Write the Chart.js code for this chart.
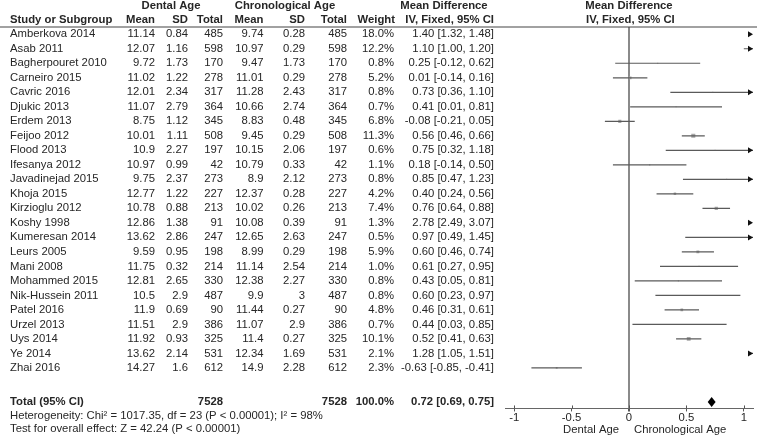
<!DOCTYPE html>
<html lang="en">
<head>
<meta charset="UTF-8">
<title>Forest plot - Dental Age vs Chronological Age</title>
<script src="https://cdn.jsdelivr.net/npm/chart.js"></script>
<style>
  html, body { margin: 0; padding: 0; background: #fff; }
  #wrap { width: 763px; height: 437px; }
</style>
</head>
<body>
<div id="wrap"><canvas id="forest" width="763" height="437"></canvas></div>
<script>
// study data
const studies = ['Amberkova 2014', 'Asab 2011', 'Bagherpouret 2010', 'Carneiro 2015', 'Cavric 2016',
  'Djukic 2013', 'Erdem 2013', 'Feijoo 2012', 'Flood 2013', 'Ifesanya 2012', 'Javadinejad 2015',
  'Khoja 2015', 'Kirzioglu 2012', 'Koshy 1998', 'Kumeresan 2014', 'Leurs 2005', 'Mani 2008',
  'Mohammed 2015', 'Nik-Hussein 2011', 'Patel 2016', 'Urzel 2013', 'Uys 2014', 'Ye 2014', 'Zhai 2016'];
const dentMean = [11.14, 12.07, 9.72, 11.02, 12.01, 11.07, 8.75, 10.01, 10.9, 10.97, 9.75, 12.77,
  10.78, 12.86, 13.62, 9.59, 11.75, 12.81, 10.5, 11.9, 11.51, 11.92, 13.62, 14.27];
const dentSD = [0.84, 1.16, 1.73, 1.22, 2.34, 2.79, 1.12, 1.11, 2.27, 0.99, 2.37, 1.22,
  0.88, 1.38, 2.86, 0.95, 0.32, 2.65, 2.9, 0.69, 2.9, 0.93, 2.14, 1.6];
const dentTotal = [485, 598, 170, 278, 317, 364, 345, 508, 197, 42, 273, 227,
  213, 91, 247, 198, 214, 330, 487, 90, 386, 325, 531, 612];
const chronMean = [9.74, 10.97, 9.47, 11.01, 11.28, 10.66, 8.83, 9.45, 10.15, 10.79, 8.9, 12.37,
  10.02, 10.08, 12.65, 8.99, 11.14, 12.38, 9.9, 11.44, 11.07, 11.4, 12.34, 14.9];
const chronSD = [0.28, 0.29, 1.73, 0.29, 2.43, 2.74, 0.48, 0.29, 2.06, 0.33, 2.12, 0.28,
  0.26, 0.39, 2.63, 0.29, 2.54, 2.27, 3, 0.27, 2.9, 0.27, 1.69, 2.28];
const chronTotal = [485, 598, 170, 278, 317, 364, 345, 508, 197, 42, 273, 227,
  213, 91, 247, 198, 214, 330, 487, 90, 386, 325, 531, 612];
const weights = [18.0, 12.2, 0.8, 5.2, 0.8, 0.7, 6.8, 11.3, 0.6, 1.1, 0.8, 4.2,
  7.4, 1.3, 0.5, 5.9, 1.0, 0.8, 0.8, 4.8, 0.7, 10.1, 2.1, 2.3];
const md = [1.40, 1.10, 0.25, 0.01, 0.73, 0.41, -0.08, 0.56, 0.75, 0.18, 0.85, 0.40,
  0.76, 2.78, 0.97, 0.60, 0.61, 0.43, 0.60, 0.46, 0.44, 0.52, 1.28, -0.63];
const ciLow = [1.32, 1.00, -0.12, -0.14, 0.36, 0.01, -0.21, 0.46, 0.32, -0.14, 0.47, 0.24,
  0.64, 2.49, 0.49, 0.46, 0.27, 0.05, 0.23, 0.31, 0.03, 0.41, 1.05, -0.85];
const ciHigh = [1.48, 1.20, 0.62, 0.16, 1.10, 0.81, 0.05, 0.66, 1.18, 0.50, 1.23, 0.56,
  0.88, 3.07, 1.45, 0.74, 0.95, 0.81, 0.97, 0.61, 0.85, 0.63, 1.51, -0.41];

// pooled result
const totalDent = 7528;
const totalChron = 7528;
const totalWeight = 100.0;
const totalMD = 0.72, totalLow = 0.69, totalHigh = 0.75;
const heterogeneity = 'Heterogeneity: Chi² = 1017.35, df = 23 (P < 0.00001); I² = 98%';
const overallTest = 'Test for overall effect: Z = 42.24 (P < 0.00001)';

const tickVals = [-1, -0.5, 0, 0.5, 1];
const xMin = -1.08, xMax = 1.08;
const totalRow = 25.34;

const FONT = '"Liberation Sans", Arial, sans-serif';
const FS = '11.3px ';
const TEXT = '#262626';

function ciText(m, l, h) {
  return m.toFixed(2) + ' [' + l.toFixed(2) + ', ' + h.toFixed(2) + ']';
}

// one line dataset per confidence interval
const ciSets = studies.map((s, i) => ({
  type: 'line',
  data: [{ x: ciLow[i], y: i }, { x: ciHigh[i], y: i }],
  borderColor: '#5a5a5a',
  borderWidth: 1.2,
  pointRadius: 0,
  showLine: true
}));

const pointSet = {
  type: 'scatter',
  data: studies.map((s, i) => ({ x: md[i], y: i })),
  pointStyle: 'rect',
  pointRadius: weights.map(w => 0.85 * Math.sqrt(w)),
  backgroundColor: '#a8a8a8',
  borderWidth: 0
};

const tablePlugin = {
  id: 'table',
  afterDraw(chart) {
    const ctx = chart.ctx;
    const xs = chart.scales.x;
    const ys = chart.scales.y;
    const area = chart.chartArea;
    ctx.save();

    // header
    ctx.fillStyle = TEXT;
    ctx.textBaseline = 'middle';
    ctx.font = 'bold ' + FS + FONT;
    ctx.textAlign = 'center';
    ctx.fillText('Dental Age', 171, 6);
    ctx.fillText('Chronological Age', 285, 6);
    ctx.fillText('Mean Difference', 444, 6);
    ctx.fillText('Mean Difference', 629, 6);
    ctx.textAlign = 'left';
    ctx.fillText('Study or Subgroup', 10, 20);
    ctx.fillText('IV, Fixed, 95% CI', 586, 20);
    ctx.textAlign = 'right';
    [['Mean', 155], ['SD', 188], ['Total', 223], ['Mean', 263.5], ['SD', 305], ['Total', 347],
      ['Weight', 395], ['IV, Fixed, 95% CI', 494]].forEach(h => ctx.fillText(h[0], h[1], 20));

    ctx.fillStyle = '#444';
    ctx.fillRect(0, 26.5, 757, 1);

    // rows
    ctx.fillStyle = TEXT;
    ctx.font = FS + FONT;
    studies.forEach((s, i) => {
      const py = ys.getPixelForValue(i);
      ctx.textAlign = 'left';
      ctx.fillText(s, 10, py);
      ctx.textAlign = 'right';
      ctx.fillText(String(dentMean[i]), 155, py);
      ctx.fillText(String(dentSD[i]), 188, py);
      ctx.fillText(String(dentTotal[i]), 223, py);
      ctx.fillText(String(chronMean[i]), 263.5, py);
      ctx.fillText(String(chronSD[i]), 305, py);
      ctx.fillText(String(chronTotal[i]), 347, py);
      ctx.fillText(weights[i].toFixed(1) + '%', 394, py);
      ctx.fillText(ciText(md[i], ciLow[i], ciHigh[i]), 494, py);
    });

    // total row
    const ty = ys.getPixelForValue(totalRow);
    ctx.font = 'bold ' + FS + FONT;
    ctx.textAlign = 'left';
    ctx.fillText('Total (95% CI)', 10, ty);
    ctx.textAlign = 'right';
    ctx.fillText(String(totalDent), 223, ty);
    ctx.fillText(String(totalChron), 347, ty);
    ctx.fillText(totalWeight.toFixed(1) + '%', 394, ty);
    ctx.fillText(ciText(totalMD, totalLow, totalHigh), 494, ty);
    ctx.font = FS + FONT;
    ctx.textAlign = 'left';
    ctx.fillText(heterogeneity, 10, ty + 13.5);
    ctx.fillText(overallTest, 10, ty + 27);

    // pooled diamond
    ctx.fillStyle = '#000';
    ctx.beginPath();
    ctx.moveTo(xs.getPixelForValue(totalLow) - 0.5, ty);
    ctx.lineTo(xs.getPixelForValue(totalMD), ty - 5);
    ctx.lineTo(xs.getPixelForValue(totalHigh) + 0.5, ty);
    ctx.lineTo(xs.getPixelForValue(totalMD), ty + 5);
    ctx.closePath();
    ctx.fill();

    // arrows for intervals running past the axis
    ctx.fillStyle = '#111';
    const tip = xs.getPixelForValue(xMax);
    studies.forEach((s, i) => {
      if (ciHigh[i] <= xMax) return;
      const py = ys.getPixelForValue(i);
      ctx.beginPath();
      ctx.moveTo(tip, py);
      ctx.lineTo(tip - 5, py - 3);
      ctx.lineTo(tip - 5, py + 3);
      ctx.closePath();
      ctx.fill();
    });

    // upper half of the tick marks
    ctx.strokeStyle = '#555';
    ctx.lineWidth = 1;
    tickVals.forEach(v => {
      const px = Math.round(xs.getPixelForValue(v)) + 0.5;
      ctx.beginPath();
      ctx.moveTo(px, area.bottom - 3);
      ctx.lineTo(px, area.bottom);
      ctx.stroke();
    });

    // favours labels
    const zero = xs.getPixelForValue(0);
    ctx.fillStyle = TEXT;
    ctx.textAlign = 'right';
    ctx.fillText('Dental Age', zero - 10, 430);
    ctx.textAlign = 'left';
    ctx.fillText('Chronological Age', zero + 5, 430);
    ctx.restore();
  }
};

new Chart(document.getElementById('forest'), {
  type: 'scatter',
  data: { datasets: [...ciSets, pointSet] },
  options: {
    responsive: false,
    animation: false,
    devicePixelRatio: 1,
    layout: { padding: { left: 505, right: 10, top: 27, bottom: 12 } },
    plugins: { legend: { display: false }, tooltip: { enabled: false } },
    scales: {
      x: {
        type: 'linear',
        min: xMin,
        max: xMax,
        afterBuildTicks: s => { s.ticks = tickVals.map(v => ({ value: v })); },
        ticks: {
          callback: v => String(v),
          font: { size: 11.3, family: FONT },
          color: TEXT,
          padding: 0,
          maxRotation: 0,
          autoSkip: false
        },
        grid: {
          color: c => (c.tick && c.tick.value === 0) ? '#8a8a8a' : 'rgba(0,0,0,0)',
          lineWidth: c => (c.tick && c.tick.value === 0) ? 2 : 1,
          tickColor: '#555',
          tickLength: 3
        },
        border: { display: true, color: '#666' }
      },
      y: {
        type: 'linear',
        display: false,
        reverse: true,
        min: -0.5,
        max: 25.79
      }
    }
  },
  plugins: [tablePlugin]
});
</script>
</body>
</html>
